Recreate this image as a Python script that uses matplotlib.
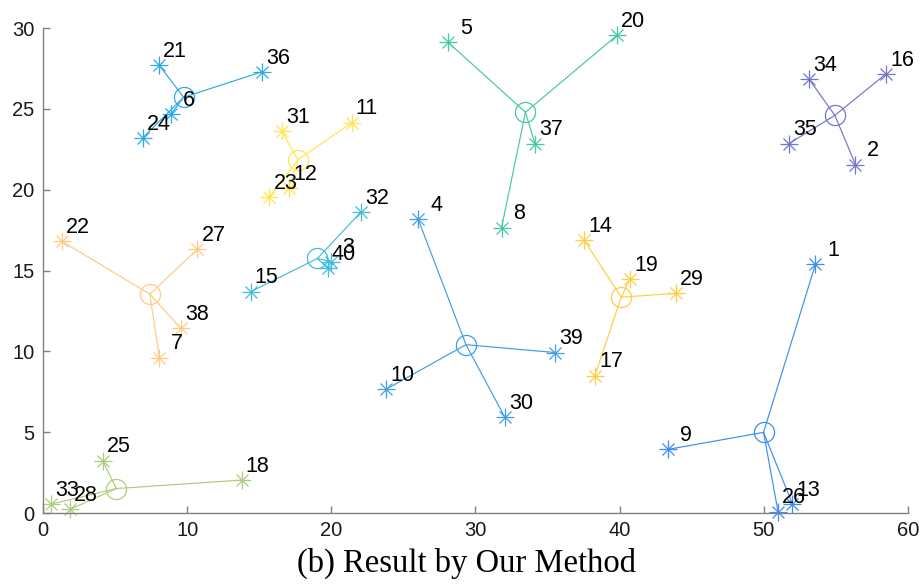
import numpy as np
import matplotlib
matplotlib.use("Agg")
import matplotlib.pyplot as plt

# Sample coordinates, indexed by sample id 1..40
point_x = [53.58, 56.36, 19.95, 26.03, 28.11, 8.88, 8.07, 31.81, 43.37, 23.79,
           21.41, 17.08, 51.99, 37.54, 14.40, 58.46, 38.28, 13.78, 40.71, 39.83,
           8.06, 1.30, 15.70, 6.91, 4.14, 50.99, 10.70, 1.87, 43.90, 32.04,
           16.55, 22.03, 0.55, 53.14, 51.76, 15.17, 34.12, 9.57, 35.51, 19.75]
point_y = [15.38, 21.56, 15.55, 18.16, 29.11, 24.68, 9.61, 17.65, 3.94, 7.65,
           24.14, 20.08, 0.56, 16.88, 13.69, 27.15, 8.49, 2.04, 14.45, 29.56,
           27.70, 16.82, 19.56, 23.21, 3.24, 0.08, 16.31, 0.23, 13.59, 5.92,
           23.64, 18.60, 0.55, 26.84, 22.86, 27.29, 22.86, 11.42, 9.93, 15.15]

# Cluster membership (sample ids) and cluster colours
clusters = [
    [21, 36, 6, 24],
    [31, 11, 23, 12],
    [5, 20, 37, 8],
    [34, 16, 35, 2],
    [22, 27, 38, 7],
    [15, 32, 3, 40],
    [4, 39, 10, 30],
    [14, 19, 29, 17],
    [1, 9, 26, 13],
    [25, 18, 33, 28],
]
cluster_colors = ["#2aaae4", "#ffe64e", "#45c8a6", "#7474cc", "#ffca84",
                  "#42bcdc", "#3e9ee8", "#ffcc44", "#3e8eee", "#aecc80"]

caption = "(b) Result by Our Method"

fig = plt.figure(figsize=(9.23, 5.85), dpi=100)
ax = fig.add_axes([0.0466, 0.123, 0.9371, 0.829])

px = np.array(point_x)
py = np.array(point_y)

for members, col in zip(clusters, cluster_colors):
    idx = np.array(members) - 1
    cx, cy = px[idx].mean(), py[idx].mean()
    for i in idx:
        ax.plot([cx, px[i]], [cy, py[i]], color=col, lw=0.85, clip_on=False)
    # asterisk-style marker: plus overlaid with a cross
    ax.plot(px[idx], py[idx], ls="none", marker="+", ms=13, mew=0.9,
            color=col, clip_on=False)
    ax.plot(px[idx], py[idx], ls="none", marker="x", ms=9, mew=0.9,
            color=col, clip_on=False)
    ax.plot([cx], [cy], ls="none", marker="o", ms=14.5, mfc="none",
            mec=col, mew=0.9, clip_on=False)

for n in range(1, len(point_x) + 1):
    label = str(n)
    dx = 3.0 if len(label) > 1 else 8.5
    ax.annotate(label, (point_x[n - 1], point_y[n - 1]),
                xytext=(dx, 6.0), textcoords="offset points",
                ha="left", va="baseline", fontsize=15.5,
                family="Liberation Sans", color="black",
                annotation_clip=False)

ax.set_xlim(0, 60)
ax.set_ylim(0, 30)
ax.set_xticks(np.arange(0, 61, 10))
ax.set_yticks(np.arange(0, 31, 5))
for side in ("top", "right"):
    ax.spines[side].set_visible(False)
for side in ("left", "bottom"):
    ax.spines[side].set_color("#808080")
    ax.spines[side].set_linewidth(1.0)
ax.tick_params(direction="in", length=5, width=1.0, color="#808080",
               labelsize=14.5, labelcolor="#1a1a1a", pad=6)
for lab in ax.get_xticklabels() + ax.get_yticklabels():
    lab.set_family("Liberation Sans")

fig.text(0.505, 0.037, caption, ha="center", va="center",
         fontsize=23.5, family="Liberation Serif", color="black")

fig.savefig("out.png", dpi=100)
